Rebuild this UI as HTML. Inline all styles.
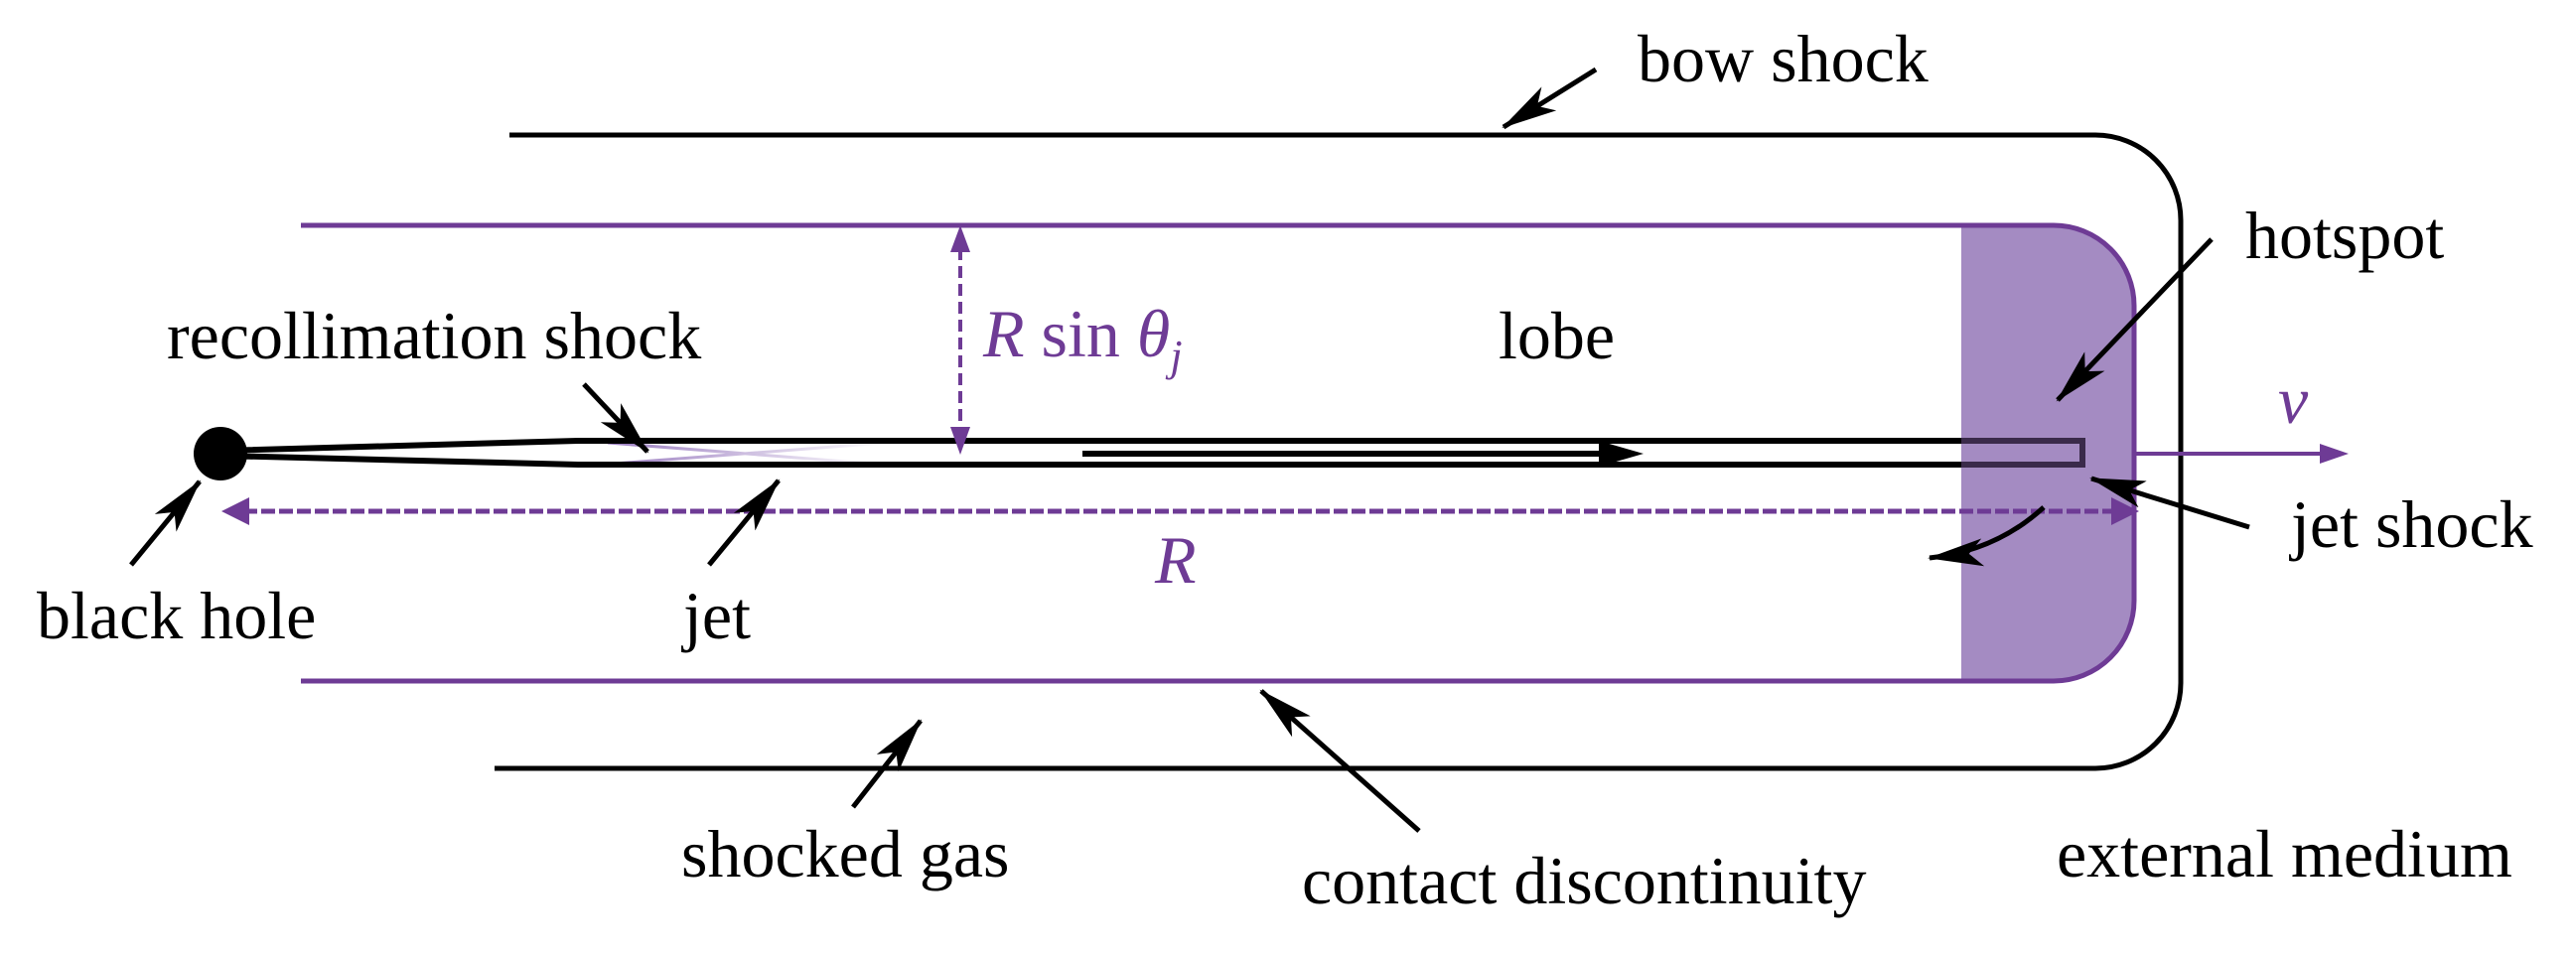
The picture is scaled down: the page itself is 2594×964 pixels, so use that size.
<!DOCTYPE html>
<html><head><meta charset="utf-8"><style>
html,body{margin:0;padding:0;background:#fff;}
svg{display:block;}
text{font-family:"Liberation Serif",serif;font-size:68px;fill:#000;}
.m{fill:#6e3b95;font-style:italic;font-family:"Liberation Serif",serif;}
</style></head><body>
<svg width="2594" height="964" viewBox="0 0 2594 964" xmlns="http://www.w3.org/2000/svg">
<defs>
<marker id="ak" viewBox="0 0 56 28" refX="54" refY="14" markerWidth="56" markerHeight="28" orient="auto" markerUnits="userSpaceOnUse"><path d="M0,0 L56,14 L0,28 L14,14 z" fill="#000"/></marker>
<linearGradient id="gx" x1="0" x2="1"><stop offset="0" stop-color="#9a7cc0"/><stop offset="1" stop-color="#ffffff"/></linearGradient>
</defs>
<path d="M513,136 H2110 A86,86 0 0 1 2196,222 V688 A86,86 0 0 1 2110,774 H498" fill="none" stroke="#000" stroke-width="5"/>
<path d="M1975,228 H2068 A80,80 0 0 1 2148,308 V605 A80,80 0 0 1 2068,685 H1975 Z" fill="#a48bc2"/>
<path d="M303,227 H2068 A81,81 0 0 1 2149,308 V605 A81,81 0 0 1 2068,686 H303" fill="none" stroke="#6e3b95" stroke-width="5"/>
<path d="M612,446 L891,468 M606,468 L891,446" stroke="url(#gx)" stroke-width="3" fill="none"/>
<path d="M222,454 L582,444 H2097 V468 H582 L222,459" fill="none" stroke="#000" stroke-width="6"/>
<path d="M1975,444 H2097 V468 H1975" fill="none" stroke="#3a2a4a" stroke-width="6"/>
<ellipse cx="222" cy="457" rx="27" ry="27" fill="#000"/>
<line x1="1090" y1="457" x2="1620" y2="457" stroke="#000" stroke-width="6"/>
<path d="M1610,444 L1655,457 L1610,470 Z" fill="#000"/>
<line x1="967" y1="250" x2="967" y2="425" stroke="#6e3b95" stroke-width="4" stroke-dasharray="12,6"/>
<path d="M957,254 L967,227 L977,254 Z" fill="#6e3b95"/>
<path d="M957,430 L967,458 L977,430 Z" fill="#6e3b95"/>
<line x1="245" y1="515" x2="2135" y2="515" stroke="#6e3b95" stroke-width="5" stroke-dasharray="14,4"/>
<path d="M251,501 L223,515 L251,529 Z" fill="#6e3b95"/>
<path d="M2126,501 L2154,515 L2126,529 Z" fill="#6e3b95"/>
<line x1="2150" y1="457" x2="2340" y2="457" stroke="#6e3b95" stroke-width="4"/>
<path d="M2336,447 L2365,457 L2336,467 Z" fill="#6e3b95"/>
<g stroke="#000" stroke-width="5" fill="none" marker-end="url(#ak)">
<line x1="1607" y1="70" x2="1514" y2="128"/>
<line x1="588" y1="387" x2="652" y2="455"/>
<line x1="132" y1="569" x2="201" y2="485"/>
<line x1="714" y1="569" x2="784" y2="484"/>
<line x1="859" y1="813" x2="927" y2="726"/>
<line x1="1429" y1="837" x2="1270" y2="696"/>
<line x1="2227" y1="241" x2="2072" y2="403"/>
<line x1="2265" y1="531" x2="2106" y2="482"/>
<path d="M2058,511 Q2010,555 1943,562"/>
</g>
<text x="1649" y="82">bow shock</text>
<text x="2261" y="260">hotspot</text>
<text x="168" y="361">recollimation shock</text>
<text x="1509" y="361">lobe</text>
<text class="m" x="990" y="359" font-size="66">R <tspan font-style="normal">sin</tspan> θ<tspan font-size="44" dy="14">j</tspan></text>
<text class="m" x="2294" y="426" font-size="66">v</text>
<text x="2307" y="551">jet shock</text>
<text class="m" x="1163" y="587" font-size="70">R</text>
<text x="37" y="643">black hole</text>
<text x="688" y="643">jet</text>
<text x="686" y="883">shocked gas</text>
<text x="1311" y="910">contact discontinuity</text>
<text x="2071" y="883">external medium</text>
</svg>
</body></html>
